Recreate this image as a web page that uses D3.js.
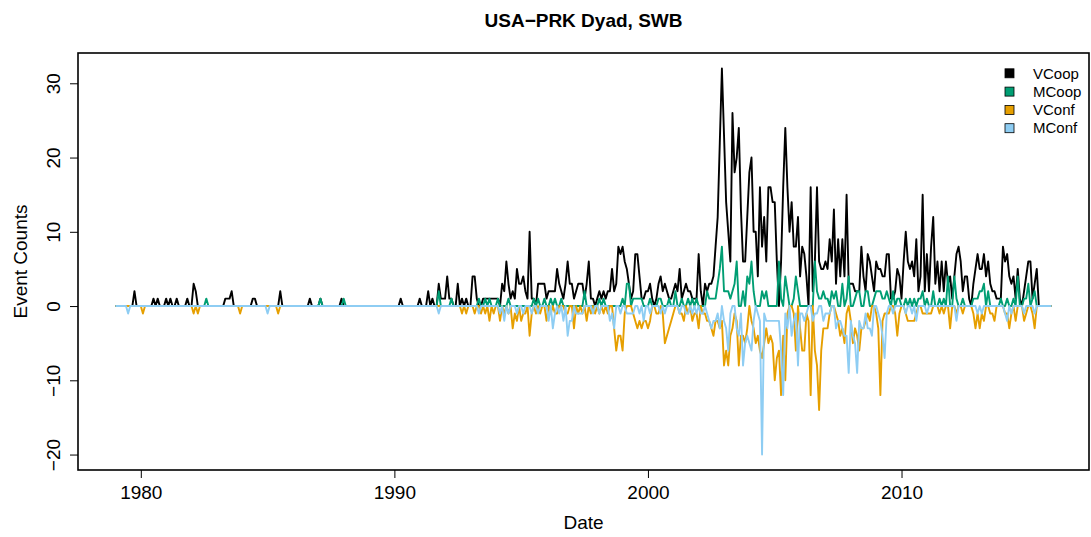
<!DOCTYPE html>
<html>
<head>
<meta charset="utf-8">
<script src="https://cdn.jsdelivr.net/npm/d3@7"></script>
<style>
  html, body { margin: 0; padding: 0; background: #fff; }
  svg text { font-family: "Liberation Sans", Arial, Helvetica, sans-serif; fill: #000; }
</style>
</head>
<body>
<div id="grafico"></div>
<script>
// ==================== USA-PRK dyad, monthly event counts ====================

const startYear = 1979;   // first month of every series is January of this year

// Verbal cooperation, one row per year (Jan..Dec)
const vcoop = [
  0,0,0,0,0,0,0,0,0,2,0,0,        // 1979
  0,0,0,0,0,0,1,0,1,0,0,0,        // 1980
  1,0,1,0,0,1,0,0,0,0,1,0,        // 1981
  0,3,2,0,0,0,0,0,0,0,0,0,        // 1982
  0,0,0,0,1,1,1,2,0,0,0,0,        // 1983
  0,0,0,0,0,1,1,0,0,0,0,0,        // 1984
  0,0,0,0,0,0,2,0,0,0,0,0,        // 1985
  0,0,0,0,0,0,0,0,1,0,0,0,        // 1986
  0,1,0,0,0,0,0,0,0,0,0,1,        // 1987
  0,0,0,0,0,0,0,0,0,0,0,0,        // 1988
  0,0,0,0,0,0,0,0,0,0,0,0,        // 1989
  0,0,0,1,0,0,0,0,0,0,0,0,        // 1990
  1,0,0,0,2,0,1,0,0,3,1,1,        // 1991
  1,4,1,1,0,0,3,0,1,0,1,0,        // 1992
  0,4,4,1,0,0,1,1,1,1,1,1,        // 1993
  1,1,0,3,2,6,3,1,2,1,5,3,        // 1994
  3,4,2,1,10,1,1,0,3,3,3,3,       // 1995
  1,2,2,2,2,5,3,2,1,3,6,3,        // 1996
  3,1,2,3,3,3,1,3,6,1,1,0,        // 1997
  1,2,1,2,1,2,2,5,2,3,8,7,        // 1998
  8,6,5,3,1,2,7,7,4,1,1,2,        // 1999
  2,3,1,0,1,3,4,2,3,2,1,1,        // 2000
  2,3,2,5,1,2,3,2,2,1,1,1,        // 2001
  7,2,0,3,2,3,3,4,8,12,22,32,     // 2002
  23,14,10,6,26,18,20,24,13,6,6,12, // 2003
  18,20,10,10,4,16,8,12,6,16,16,14, // 2004
  14,6,0,6,16,24,16,10,14,8,8,12, // 2005
  4,8,7,4,0,16,2,6,16,6,5,5,      // 2006
  6,5,9,6,13,3,9,4,9,4,15,3,      // 2007
  3,3,2,2,2,8,4,2,7,6,4,2,        // 2008
  6,5,5,4,4,7,7,1,1,2,5,4,        // 2009
  1,6,10,6,5,6,4,9,2,4,15,2,      // 2010
  7,2,8,12,3,6,2,6,2,6,3,4,       // 2011
  1,4,7,8,6,2,4,4,1,0,3,5,        // 2012
  7,5,5,7,4,6,3,2,2,1,1,1,        // 2013
  8,6,7,4,3,4,1,5,1,0,2,4,        // 2014
  6,6,1,3,5,0,0,0,0,0,0,0         // 2015
];

// Material cooperation
const mcoop = [
  0,0,0,0,0,0,0,0,0,0,0,0,        // 1979
  0,0,0,0,0,0,0,0,0,0,0,0,        // 1980
  0,0,0,0,0,0,0,0,0,0,0,0,        // 1981
  0,0,0,0,0,0,0,1,0,0,0,0,        // 1982
  0,0,0,0,0,0,0,0,0,0,0,0,        // 1983
  0,0,0,0,0,0,0,0,0,0,0,0,        // 1984
  0,0,0,0,0,0,0,0,0,0,0,0,        // 1985
  0,0,0,0,0,0,0,0,0,0,0,0,        // 1986
  0,1,0,0,0,0,0,0,0,0,0,0,        // 1987
  1,0,0,0,0,0,0,0,0,0,0,0,        // 1988
  0,0,0,0,0,0,0,0,0,0,0,0,        // 1989
  0,0,0,0,0,0,0,0,0,0,0,0,        // 1990
  0,0,0,0,0,0,0,0,0,2,0,0,        // 1991
  0,0,0,1,0,0,0,0,0,0,0,0,        // 1992
  0,0,0,0,1,0,0,1,0,1,0,0,        // 1993
  0,1,0,0,0,0,1,0,0,0,0,0,        // 1994
  0,0,0,0,0,0,1,0,1,0,0,1,        // 1995
  0,0,1,0,1,0,0,1,0,0,0,0,        // 1996
  0,0,0,0,0,0,2,0,0,0,0,0,        // 1997
  0,1,0,1,0,0,0,0,0,0,0,0,        // 1998
  1,0,3,3,0,1,1,1,1,1,0,0,        // 1999
  0,1,0,0,0,1,1,0,0,0,1,0,        // 2000
  0,2,0,0,1,0,0,1,0,1,0,1,        // 2001
  0,0,0,0,2,1,1,1,1,3,5,8,        // 2002
  2,2,2,1,2,3,6,0,0,2,0,4,        // 2003
  3,6,2,0,0,0,2,1,2,0,0,0,        // 2004
  0,0,6,1,0,4,2,0,0,1,4,2,        // 2005
  0,0,0,0,0,0,0,6,2,1,1,2,        // 2006
  1,1,0,2,1,2,0,0,3,0,1,4,        // 2007
  0,0,1,2,2,0,0,2,2,0,0,1,        // 2008
  2,2,2,1,1,2,1,0,2,0,1,1,        // 2009
  0,0,1,0,1,0,1,0,1,1,2,0,        // 2010
  1,0,0,2,0,0,1,0,1,0,4,0,        // 2011
  0,4,1,0,0,1,0,0,0,0,1,1,        // 2012
  1,2,2,3,0,2,0,0,0,0,0,1,        // 2013
  0,0,1,0,0,1,0,4,0,0,1,1,        // 2014
  3,0,1,2,0,0,0,0,0,0,0,0         // 2015
];

// Verbal conflict (counts, drawn below zero)
const vconf = [
  0,0,0,0,0,0,0,0,0,0,0,0,        // 1979
  0,1,0,0,0,0,0,0,0,0,0,0,        // 1980
  0,0,0,0,0,0,0,0,0,0,0,0,        // 1981
  0,1,0,1,0,0,0,0,0,0,0,0,        // 1982
  0,0,0,0,0,0,0,0,0,0,0,1,        // 1983
  0,0,0,0,0,0,0,0,0,0,0,0,        // 1984
  0,0,0,0,0,1,0,0,0,0,0,0,        // 1985
  0,0,0,0,0,0,0,0,0,0,0,0,        // 1986
  0,0,0,0,0,0,0,0,0,0,0,0,        // 1987
  0,0,0,0,0,0,0,0,0,0,0,0,        // 1988
  0,0,0,0,0,0,0,0,0,0,0,0,        // 1989
  0,0,0,0,0,0,0,0,0,0,0,0,        // 1990
  0,0,0,0,0,0,0,0,0,0,0,0,        // 1991
  0,0,0,0,0,0,0,0,1,0,1,0,        // 1992
  0,0,1,0,0,1,0,1,0,2,0,1,        // 1993
  0,0,2,0,1,0,1,0,3,1,2,0,        // 1994
  2,1,1,0,4,1,0,1,0,1,0,0,        // 1995
  2,0,1,0,1,1,0,0,0,1,1,0,        // 1996
  0,3,0,1,0,1,0,2,0,1,0,1,        // 1997
  0,1,0,1,0,1,0,0,3,6,4,4,        // 1998
  6,1,0,0,0,1,2,3,2,3,2,2,        // 1999
  3,2,0,0,1,1,0,1,5,4,3,2,        // 2000
  1,0,0,1,1,2,0,1,0,2,1,1,        // 2001
  3,0,1,1,2,2,3,4,2,2,3,2,        // 2002
  8,6,8,4,3,1,2,8,4,4,5,3,        // 2003
  0,2,3,5,4,6,7,5,3,5,4,5,        // 2004
  10,7,6,12,4,10,1,0,0,1,6,0,     // 2005
  3,6,6,1,2,12,0,6,8,14,6,3,      // 2006
  3,3,1,0,0,1,2,4,3,5,1,0,        // 2007
  2,5,3,4,6,3,3,2,1,2,0,0,        // 2008
  1,3,12,2,1,1,1,0,0,1,4,1,       // 2009
  0,0,1,2,2,2,2,1,0,0,1,1,        // 2010
  1,1,1,0,0,0,1,0,1,0,0,3,        // 2011
  0,0,1,0,0,1,0,0,0,0,1,3,        // 2012
  1,3,1,2,0,0,1,1,2,0,0,0,        // 2013
  0,1,1,3,1,0,2,0,0,0,2,1,        // 2014
  0,0,1,3,0,0,0,0,0,0,0,0         // 2015
];

// Material conflict (counts, drawn below zero)
const mconf = [
  0,0,0,0,0,0,1,0,0,0,0,0,        // 1979
  0,0,0,0,0,0,0,0,0,0,0,0,        // 1980
  0,0,0,0,0,0,0,0,0,0,0,0,        // 1981
  0,0,0,0,0,0,0,0,0,0,0,0,        // 1982
  0,0,0,0,0,0,0,0,0,0,0,0,        // 1983
  0,0,0,0,0,0,0,0,0,0,0,0,        // 1984
  1,0,0,0,0,0,0,0,0,0,0,0,        // 1985
  0,0,0,0,0,0,0,0,0,0,0,0,        // 1986
  0,0,0,0,0,0,0,0,0,0,0,0,        // 1987
  0,0,0,0,0,0,0,0,0,0,0,0,        // 1988
  0,0,0,0,0,0,0,0,0,0,0,0,        // 1989
  0,0,0,0,0,0,0,0,0,0,0,0,        // 1990
  0,0,0,0,0,0,0,0,0,1,0,0,        // 1991
  0,0,0,0,0,0,0,0,0,0,0,0,        // 1992
  0,0,0,0,1,0,0,0,0,0,0,0,        // 1993
  0,0,1,0,2,0,1,0,0,0,1,0,        // 1994
  0,1,0,0,0,1,0,0,1,0,0,0,        // 1995
  0,2,0,3,1,0,1,0,2,0,4,2,        // 1996
  2,0,1,1,1,1,0,0,0,0,1,0,        // 1997
  0,1,0,0,0,0,2,1,3,0,0,1,        // 1998
  0,0,1,1,1,1,0,0,1,0,2,0,        // 1999
  0,1,0,0,0,0,1,0,1,0,0,0,        // 2000
  0,0,0,1,0,0,1,1,0,1,0,1,        // 2001
  0,1,1,0,1,2,3,2,2,1,3,0,        // 2002
  2,3,6,1,0,0,3,4,1,8,5,4,        // 2003
  5,6,2,0,1,2,20,1,2,2,2,2,       // 2004
  2,2,2,6,12,1,3,0,4,2,1,8,       // 2005
  1,1,2,1,0,0,2,1,1,0,0,2,        // 2006
  1,1,1,0,0,3,2,2,3,4,4,9,        // 2007
  2,4,5,9,2,3,3,1,3,3,4,0,        // 2008
  0,1,2,4,7,1,0,0,1,0,0,0,        // 2009
  0,0,1,0,0,1,0,2,0,0,0,0,        // 2010
  1,0,0,0,0,0,0,0,0,0,0,0,        // 2011
  0,0,2,0,0,0,0,0,0,0,0,0,        // 2012
  1,0,1,0,0,0,0,0,0,0,0,0,        // 2013
  0,1,2,0,1,0,0,0,0,0,1,0,        // 2014
  0,0,0,1,0,0,0,0,0,0,0,0         // 2015
];

const seriesNames = ["VCoop", "MCoop", "VConf", "MConf"];
const seriesColors = ["#000000", "#009E73", "#E69F00", "#8ECDF3"];
const xTicks = [1980, 1990, 2000, 2010];
const yTicks = [-20, -10, 0, 10, 20, 30];
const title = "USA\u2212PRK Dyad, SWB";
const xLabel = "Date";
const yLabel = "Event Counts";

// ---- dimensions ----
const width = 1091, height = 537;
const marginLeft = 78, marginRight = 2, marginTop = 53, marginBottom = 67;

// conflict series are plotted as negative counts
const series = [
  { name: seriesNames[0], values: vcoop, sign: 1 },
  { name: seriesNames[1], values: mcoop, sign: 1 },
  { name: seriesNames[2], values: vconf, sign: -1 },
  { name: seriesNames[3], values: mconf, sign: -1 }
];
const monthTime = i => startYear + i / 12;

const n = vcoop.length;
const tExt = [monthTime(0), monthTime(n - 1)];
const yMin = d3.min(series, s => d3.min(s.values, v => v * s.sign));
const yMax = d3.max(series, s => d3.max(s.values, v => v * s.sign));
// R style: pad 4% on each side
const tPad = (tExt[1] - tExt[0]) * 0.04;
const yPad = (yMax - yMin) * 0.04;

const x = d3.scaleLinear()
  .domain([tExt[0] - tPad, tExt[1] + tPad])
  .range([marginLeft, width - marginRight]);

const y = d3.scaleLinear()
  .domain([yMin - yPad, yMax + yPad])
  .range([height - marginBottom, marginTop]);

const color = d3.scaleOrdinal().domain(seriesNames).range(seriesColors);

const svg = d3.select("#grafico")
  .append("svg")
  .attr("width", width)
  .attr("height", height)
  .attr("viewBox", [0, 0, width, height]);

// ---- lines ----
const line = d3.line()
  .x((d, i) => x(monthTime(i)))
  .y(d => y(d));

svg.append("g")
  .selectAll("path")
  .data(series)
  .join("path")
  .attr("fill", "none")
  .attr("stroke", d => color(d.name))
  .attr("stroke-width", 1.9)
  .attr("stroke-linejoin", "round")
  .attr("d", d => line(d.values.map(v => v * d.sign)));

// ---- frame ----
svg.append("rect")
  .attr("x", marginLeft)
  .attr("y", marginTop)
  .attr("width", width - marginLeft - marginRight)
  .attr("height", height - marginTop - marginBottom)
  .attr("fill", "none")
  .attr("stroke", "#000")
  .attr("stroke-width", 1.6);

// ---- axes ----
const xAxis = svg.append("g")
  .attr("transform", `translate(0,${height - marginBottom})`)
  .call(d3.axisBottom(x).tickValues(xTicks).tickFormat(d3.format("d")).tickSize(8))
  .call(g => g.select(".domain").remove());
xAxis.selectAll(".tick line").attr("stroke", "#000");
xAxis.selectAll(".tick text")
  .attr("y", 29).attr("dy", null)
  .style("font-size", "19px");

const yAxis = svg.append("g")
  .attr("transform", `translate(${marginLeft},0)`)
  .call(d3.axisLeft(y).tickValues(yTicks).tickSize(8))
  .call(g => g.select(".domain").remove());
yAxis.selectAll(".tick line").attr("stroke", "#000");
yAxis.selectAll(".tick text")
  .attr("x", 0).attr("dy", null)
  .attr("y", -18)
  .attr("transform", "rotate(-90)")
  .attr("text-anchor", "middle")
  .style("font-size", "19px");

// ---- titles ----
const plotCx = (marginLeft + width - marginRight) / 2;

svg.append("text")
  .attr("x", plotCx).attr("y", 27)
  .attr("text-anchor", "middle")
  .style("font-size", "19px").style("font-weight", "bold")
  .text(title);

svg.append("text")
  .attr("x", plotCx).attr("y", 529)
  .attr("text-anchor", "middle")
  .style("font-size", "19px")
  .text(xLabel);

svg.append("text")
  .attr("transform", `translate(27,${(marginTop + height - marginBottom) / 2}) rotate(-90)`)
  .attr("text-anchor", "middle")
  .style("font-size", "19px")
  .text(yLabel);

// ---- legend ----
const legend = svg.append("g")
  .selectAll("g")
  .data(seriesNames)
  .join("g")
  .attr("transform", (d, i) => `translate(1005,${73.3 + i * 18.3})`);

legend.append("rect")
  .attr("x", 0).attr("y", -4.5)
  .attr("width", 9).attr("height", 9)
  .attr("fill", d => color(d))
  .attr("stroke", "#000")
  .attr("stroke-width", 0.8);

legend.append("text")
  .attr("x", 28).attr("dy", "0.35em")
  .style("font-size", "15px")
  .text(d => d);
</script>
</body>
</html>
